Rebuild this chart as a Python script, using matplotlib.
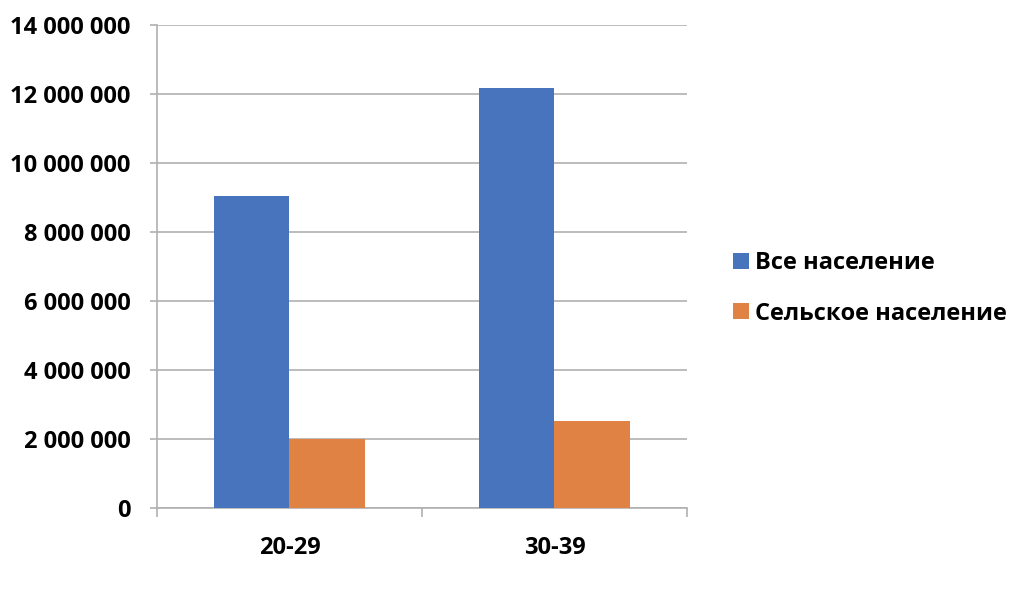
import numpy as np
import matplotlib.pyplot as plt
from matplotlib.ticker import FuncFormatter

# data
categories = ["20-29", "30-39"]
all_pop = [9040000, 12170000]
rural_pop = [1990000, 2530000]
series_names = ["Все население", "Сельское население"]

plt.rcParams['font.family'] = ['Open Sans', 'DejaVu Sans']
plt.rcParams['font.weight'] = 'bold'

fig = plt.figure(figsize=(10.24, 5.91), dpi=100)
ax = fig.add_axes([0.1533, 0.1404, 0.5176, 0.8173])

x = np.arange(len(categories))
w = 0.284
ax.bar(x - w / 2, all_pop, w, color='#4874BE', label=series_names[0], zorder=3)
ax.bar(x + w / 2, rural_pop, w, color='#E08243', label=series_names[1], zorder=3)

ax.set_xlim(-0.5, 1.5)
ax.set_ylim(0, 14000000)
ax.set_yticks(np.arange(0, 14000001, 2000000))
ax.yaxis.set_major_formatter(FuncFormatter(lambda v, p: f"{int(v):,}".replace(",", " ")))
ax.grid(axis='y', color='#B0B0B0', linewidth=1.2, zorder=0)

# category ticks sit between groups
ax.set_xticks([-0.5, 0.5, 1.5], minor=False)
ax.set_xticklabels([])
ax.set_xticks(x, minor=True)
ax.set_xticklabels(categories, minor=True)
ax.tick_params(axis='x', which='major', length=6.5, color='#B0B0B0', width=1.2)
ax.tick_params(axis='x', which='minor', length=0, pad=20, labelsize=17)
ax.tick_params(axis='y', length=5, color='#B0B0B0', width=1.2, pad=14, labelsize=17)

for s in ['top', 'right']:
    ax.spines[s].set_visible(False)
ax.spines['left'].set_color('#B0B0B0')
ax.spines['left'].set_linewidth(1.2)
ax.spines['bottom'].set_color('#B0B0B0')
ax.spines['bottom'].set_linewidth(1.2)

fig.legend(loc='center left', bbox_to_anchor=(0.707, 0.512), frameon=False,
           fontsize=17, handlelength=0.65, handleheight=0.65, handletextpad=0.25,
           labelspacing=1.12, borderaxespad=0)

fig.savefig('out.png', dpi=100)
